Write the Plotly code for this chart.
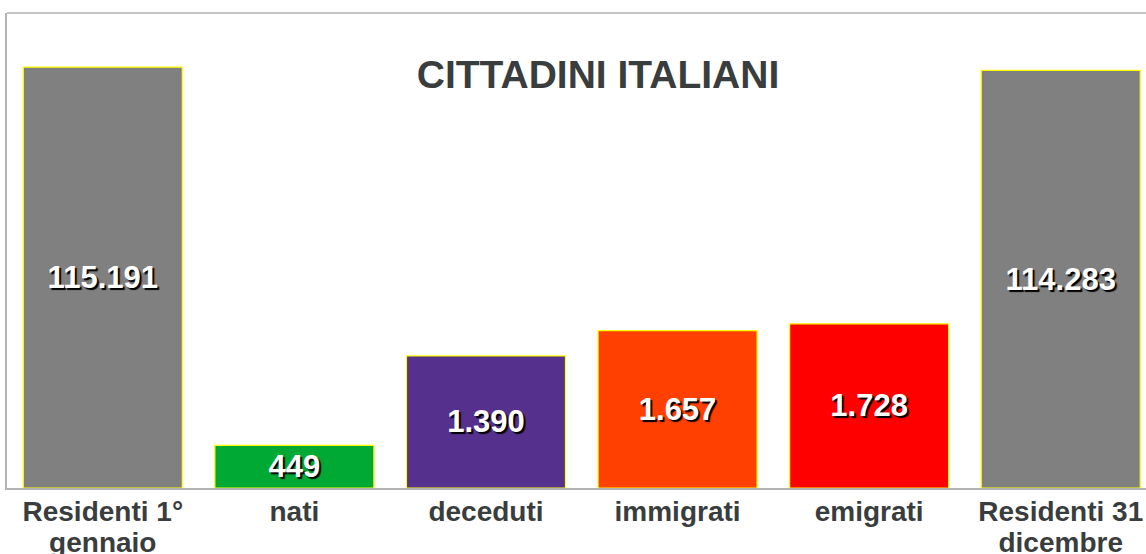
import plotly.graph_objects as go

categories = ["Residenti 1°<br>gennaio", "nati", "deceduti", "immigrati", "emigrati", "Residenti 31<br>dicembre"]
values = [115191, 449, 1390, 1657, 1728, 114283]
is_resident = [True, False, False, False, False, True]
colors = ["#808080", "#00a933", "#55308d", "#ff4000", "#ff0000", "#808080"]
title_text = "CITTADINI ITALIANI"

# resident totals are drawn on a compressed scale so all bars fit on one axis
RESIDENT_SCALE = 26
heights = [v / RESIDENT_SCALE if r else v for v, r in zip(values, is_resident)]
labels = [f"{v:,}".replace(",", ".") for v in values]
line1 = [c.split("<br>")[0] for c in categories]
line2 = [c.split("<br>")[1] if "<br>" in c else "" for c in categories]
xpos = list(range(len(categories)))

FONT = "Liberation Sans, Arial, sans-serif"
TXT = "#3a3d3d"
XRANGE = [-0.5, 5.445]

fig = go.Figure()
fig.add_trace(
    go.Bar(
        x=xpos,
        y=heights,
        marker=dict(color=colors, line=dict(color="#ffff00", width=1.2)),
        text=labels,
        textposition="inside",
        insidetextanchor="middle",
        constraintext="none",
        textfont=dict(family=FONT, size=31, color="white", weight="bold",
                      shadow="2px 2px 1px #000000"),
        hoverinfo="skip",
    )
)
# invisible helper trace so the second-line label axis is drawn
fig.add_trace(go.Scatter(x=[xpos[0]], y=[0], xaxis="x2", mode="markers",
                         marker=dict(opacity=0), hoverinfo="skip", showlegend=False))

tickfont = dict(family=FONT, size=28, color=TXT)

fig.update_layout(
    width=1146,
    height=554,
    margin=dict(l=7, r=0, t=13, b=66),
    paper_bgcolor="white",
    plot_bgcolor="white",
    bargap=0.17,
    showlegend=False,
    title=dict(
        text=f"<b>{title_text}</b>",
        x=598 / 1146, xanchor="center", xref="container",
        y=1 - 74 / 554, yanchor="middle", yref="container",
        font=dict(family=FONT, size=39, color=TXT),
    ),
    xaxis=dict(
        tickmode="array",
        tickvals=xpos,
        ticktext=[f"<b>{c}</b>" for c in line1],
        range=XRANGE,
        showgrid=False,
        zeroline=False,
        showline=True,
        linecolor="#b3b3b3",
        linewidth=1.5,
        ticks="",
        automargin=False,
        ticklabelstandoff=-2,
        tickfont=tickfont,
    ),
    xaxis2=dict(
        overlaying="x",
        anchor="y",
        side="bottom",
        tickmode="array",
        tickvals=xpos,
        ticktext=[f"<b>{c}</b>" if c else "" for c in line2],
        range=XRANGE,
        showgrid=False,
        zeroline=False,
        showline=False,
        ticks="",
        automargin=False,
        ticklabelstandoff=35,
        tickfont=tickfont,
    ),
    yaxis=dict(
        range=[0, 5000],
        showgrid=False,
        zeroline=False,
        showticklabels=False,
        showline=True,
        linecolor="#b3b3b3",
        linewidth=1.5,
        ticks="",
        automargin=False,
    ),
    shapes=[
        dict(type="line", xref="paper", yref="paper", x0=0, x1=1, y0=1, y1=1,
             line=dict(color="#b3b3b3", width=1.5)),
    ],
)

fig.write_html("out.html")
